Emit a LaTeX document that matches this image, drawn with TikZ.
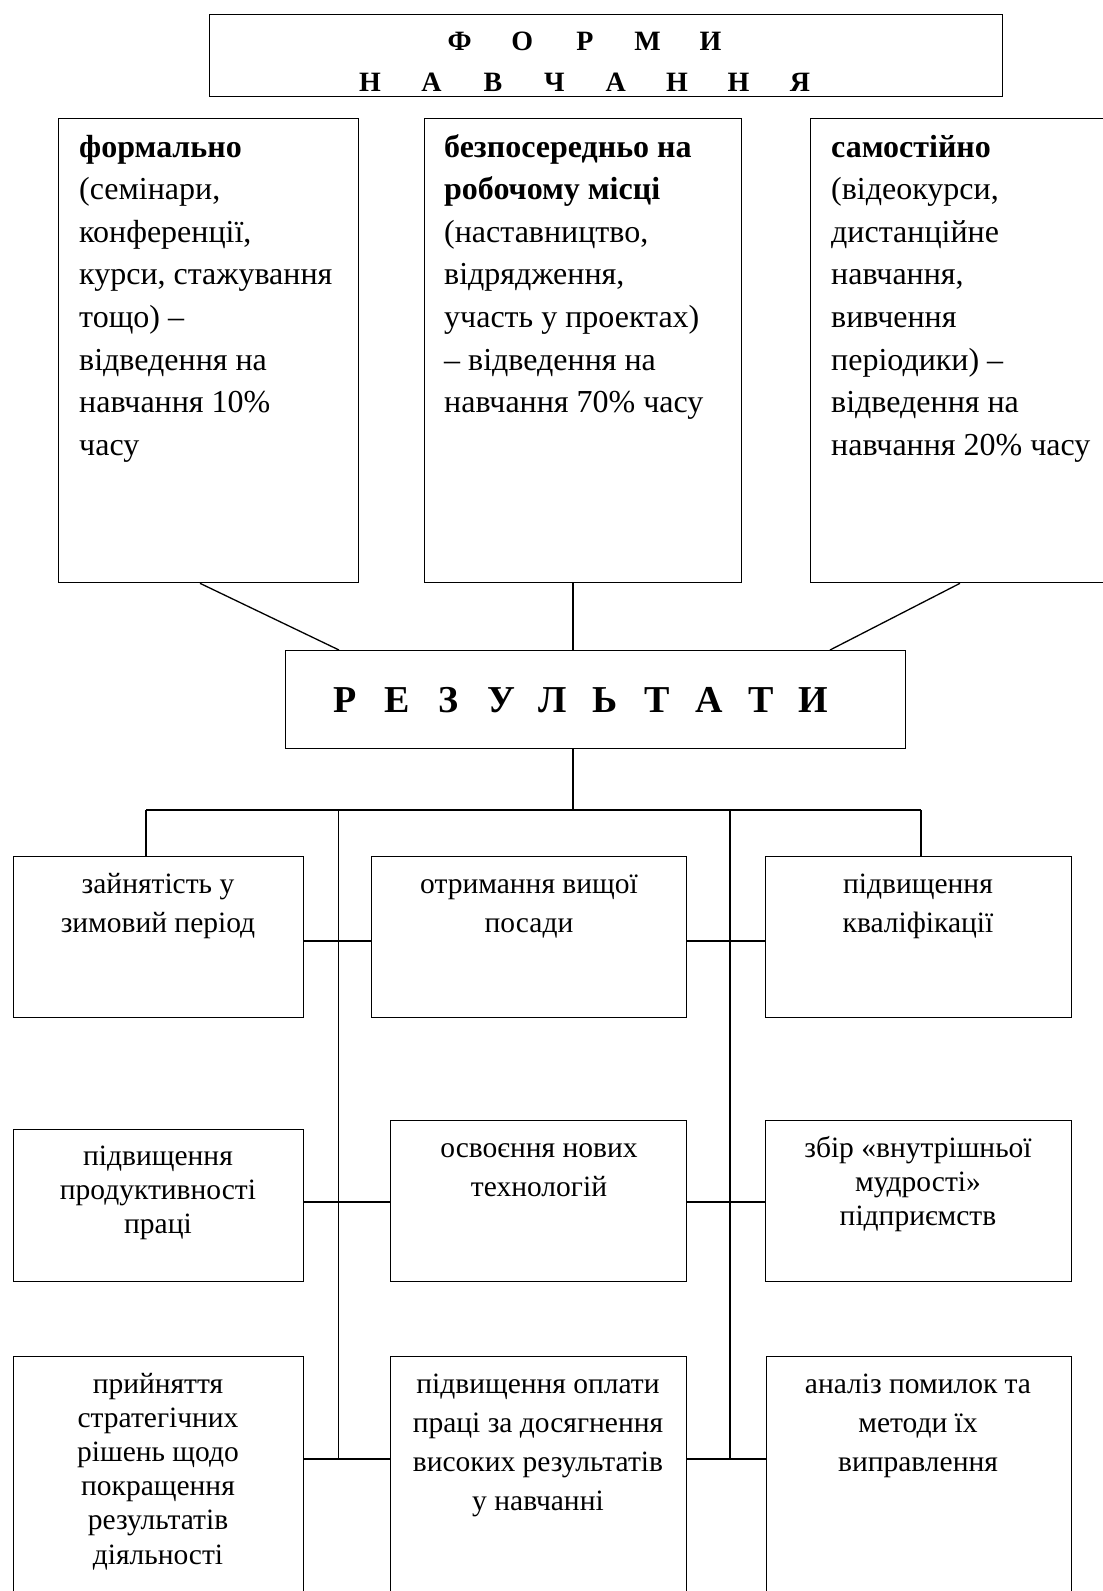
\documentclass[tikz,border=0pt]{standalone}
\usepackage{fontspec}
\setmainfont{Liberation Serif}
\usetikzlibrary{calc}
\newcommand\lt[2]{\makebox[#1]{#2}}
\begin{document}
\begin{tikzpicture}[x=1pt,y=-1pt,
  box/.style={draw, line width=1.3pt, rectangle, inner sep=0pt, anchor=north west},
  link/.style={line width=1.3pt},
  toptext/.style={anchor=base west, align=left, inner sep=0pt, font=\fontsize{32}{42.6}\selectfont},
  rowtext/.style={anchor=base, align=center, inner sep=0pt, font=\fontsize{29.5}{39}\selectfont},
  rowtight/.style={anchor=base, align=center, inner sep=0pt, font=\fontsize{29.5}{34.2}\selectfont},
  headtext/.style={anchor=base, inner sep=0pt, font=\bfseries\fontsize{28}{30}\selectfont},
  restext/.style={anchor=base, inner sep=0pt, font=\bfseries\fontsize{38}{40}\selectfont}]
\useasboundingbox (0,0) rectangle (1103,1591);
\clip (0,0) rectangle (1103,1591);

% heading (each text node is placed by the baseline of its last line)
\node[box, minimum width=793pt, minimum height=82pt] (head) at (209,14) {};
\node[headtext] (head1) at (585,50) {\lt{62.7pt}{Ф}\lt{62.7pt}{О}\lt{62.7pt}{Р}\lt{62.7pt}{М}\lt{62.7pt}{И}};
\node[headtext] (head2) at (585,91) {\lt{61.4pt}{Н}\lt{61.4pt}{А}\lt{61.4pt}{В}\lt{61.4pt}{Ч}\lt{61.4pt}{А}\lt{61.4pt}{Н}\lt{61.4pt}{Н}\lt{61.4pt}{Я}};

% forms of learning
\node[box, minimum width=300pt, minimum height=464pt] (f1) at (58,118) {};
\node[box, minimum width=317pt, minimum height=464pt] (f2) at (424,118) {};
\node[box, minimum width=300pt, minimum height=464pt] (f3) at (810,118) {};
\node[toptext] (f1t) at (79,455.2) {\textbf{формально}\\(семінари,\\конференції,\\курси, стажування\\тощо) –\\відведення на\\навчання 10\%\\часу};
\node[toptext] (f2t) at (444,412.6) {\textbf{безпосередньо на}\\\textbf{робочому місці}\\(наставництво,\\відрядження,\\участь у проектах)\\– відведення на\\навчання 70\% часу};
\node[toptext] (f3t) at (831,455.2) {\textbf{самостійно}\\(відеокурси,\\дистанційне\\навчання,\\вивчення\\періодики) –\\відведення на\\навчання 20\% часу};

% results
\node[box, minimum width=620pt, minimum height=98pt] (res) at (285,650) {};
\node[restext] (rest) at (579,712) {\lt{52pt}{Р}\lt{52pt}{Е}\lt{52pt}{З}\lt{52pt}{У}\lt{52pt}{Л}\lt{52pt}{Ь}\lt{52pt}{Т}\lt{52pt}{А}\lt{52pt}{Т}\lt{52pt}{И}};

\draw[link] ([xshift=142pt]f1.south west) -- ([xshift=54pt]res.north west);
\draw[link] ([xshift=149pt]f2.south west) -- ([xshift=288pt]res.north west);
\draw[link] ([xshift=150pt]f3.south west) -- ([xshift=545pt]res.north west);

% outcome boxes
\node[box, minimum width=290pt, minimum height=161pt] (r11) at (13,856) {};
\node[box, minimum width=315pt, minimum height=161pt] (r12) at (371,856) {};
\node[box, minimum width=306pt, minimum height=161pt] (r13) at (765,856) {};
\node[box, minimum width=290pt, minimum height=152pt] (r21) at (13,1129) {};
\node[box, minimum width=296pt, minimum height=161pt] (r22) at (390,1120) {};
\node[box, minimum width=306pt, minimum height=161pt] (r23) at (765,1120) {};
\node[box, minimum width=290pt, minimum height=260pt] (r31) at (13,1356) {};
\node[box, minimum width=296pt, minimum height=260pt] (r32) at (390,1356) {};
\node[box, minimum width=305pt, minimum height=260pt] (r33) at (766,1356) {};

\node[rowtext] (r11t) at (158,932) {зайнятість у\\зимовий період};
\node[rowtext] (r12t) at (529,932) {отримання вищої\\посади};
\node[rowtext] (r13t) at (918,932) {підвищення\\кваліфікації};
\node[rowtight] (r21t) at (158,1233.4) {підвищення\\продуктивності\\праці};
\node[rowtext] (r22t) at (539,1196) {освоєння нових\\технологій};
\node[rowtight] (r23t) at (918,1225.4) {збір «внутрішньої\\мудрості»\\підприємств};
\node[rowtight] (r31t) at (158,1564) {прийняття\\стратегічних\\рішень щодо\\покращення\\результатів\\діяльності};
\node[rowtext] (r32t) at (538,1510) {підвищення оплати\\праці за досягнення\\високих результатів\\у навчанні};
\node[rowtext] (r33t) at (918,1471) {аналіз помилок та\\методи їх\\виправлення};

% bus and branches
\coordinate (busM) at (573,810);
\coordinate (busL) at (146,810);
\coordinate (busR) at (921,810);
\coordinate (spL) at (338.5,810);
\coordinate (spR) at (730,810);
\coordinate (endL) at (338.5,1459);
\coordinate (endR) at (730,1459);
\coordinate (rowA) at (0,941);
\coordinate (rowB) at (0,1202);
\coordinate (rowC) at (0,1459);

\draw[link] (res.south west -| busM) -- (busM);
\draw[link] (busL) -- (busR);
\draw[link] (busL) -- (busL |- r11.north);
\draw[link] (busR) -- (busR |- r13.north);
\draw[link] (spL) -- (endL);
\draw[link] (spR) -- (endR);

\draw[link] (r11.east |- rowA) -- (r12.west |- rowA);
\draw[link] (r12.east |- rowA) -- (r13.west |- rowA);
\draw[link] (r21.east |- rowB) -- (r22.west |- rowB);
\draw[link] (r22.east |- rowB) -- (r23.west |- rowB);
\draw[link] (r31.east |- rowC) -- (r32.west |- rowC);
\draw[link] (r32.east |- rowC) -- (r33.west |- rowC);
\end{tikzpicture}
\end{document}
